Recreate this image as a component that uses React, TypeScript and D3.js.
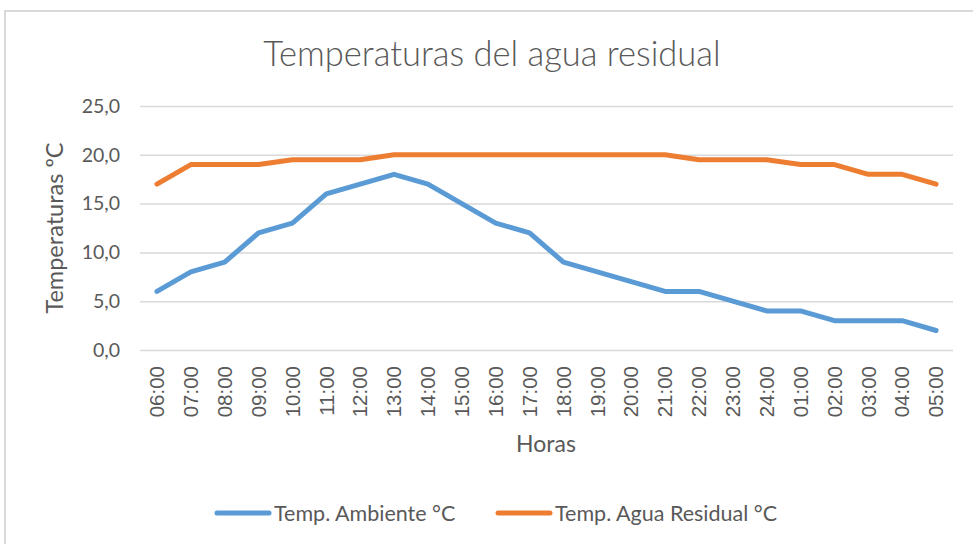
import React, { useEffect, useRef } from "react";
import * as d3 from "d3";

const horas = [
  "06:00", "07:00", "08:00", "09:00", "10:00", "11:00", "12:00", "13:00",
  "14:00", "15:00", "16:00", "17:00", "18:00", "19:00", "20:00", "21:00",
  "22:00", "23:00", "24:00", "01:00", "02:00", "03:00", "04:00", "05:00",
];
const ambiente = [6, 8, 9, 12, 13, 16, 17, 18, 17, 15, 13, 12, 9, 8, 7, 6, 6, 5, 4, 4, 3, 3, 3, 2];
const aguaResidual = [
  17, 19, 19, 19, 19.5, 19.5, 19.5, 20, 20, 20, 20, 20, 20, 20, 20, 20,
  19.5, 19.5, 19.5, 19, 19, 18, 18, 17,
];
const yTicks = [0, 5, 10, 15, 20, 25];

const width = 973;
const height = 544;

export default function App() {
  const ref = useRef<SVGSVGElement>(null);

  useEffect(() => {
    const svg = d3.select(ref.current);
    const margin = { top: 106, right: 20, bottom: 194, left: 140 };
    const textColor = "#595959";
    const font = "Lato, 'Open Sans', sans-serif";

    const series = [
      { name: "Temp. Ambiente °C", values: ambiente, color: "#5B9BD5" },
      { name: "Temp. Agua Residual °C", values: aguaResidual, color: "#ED7D31" },
    ];

    const x = d3
      .scaleBand()
      .domain(horas)
      .range([margin.left, width - margin.right]);

    const y = d3
      .scaleLinear()
      .domain([0, 25])
      .range([height - margin.bottom, margin.top]);

    // chart border (only top/left visible)
    svg
      .append("rect")
      .attr("x", 5)
      .attr("y", 11)
      .attr("width", width + 20)
      .attr("height", height + 20)
      .attr("fill", "none")
      .attr("stroke", "#D9D9D9")
      .attr("stroke-width", 2);

    svg
      .append("text")
      .attr("x", 492)
      .attr("y", 66)
      .attr("text-anchor", "middle")
      .attr("font-family", font)
      .attr("font-weight", 300)
      .attr("font-size", 34.5)
      .attr("fill", textColor)
      .text("Temperaturas del agua residual");

    // y grid + labels
    const yAxis = svg
      .append("g")
      .attr("transform", `translate(${margin.left},0)`)
      .call(
        d3
          .axisLeft(y)
          .tickValues(yTicks)
          .tickSize(-(width - margin.left - margin.right))
          .tickPadding(20)
          .tickFormat(d => d3.format(".1f")(d as number).replace(".", ","))
      );
    yAxis.select(".domain").remove();
    yAxis.selectAll(".tick line").attr("stroke", "#D9D9D9").attr("stroke-width", 1.5);
    yAxis
      .selectAll(".tick text")
      .attr("fill", textColor)
      .attr("font-family", font)
      .attr("font-size", 19.5);

    // x labels
    const xAxis = svg
      .append("g")
      .attr("transform", `translate(0,${height - margin.bottom})`)
      .call(d3.axisBottom(x).tickSize(0).tickPadding(0));
    xAxis.select(".domain").remove();
    xAxis
      .selectAll(".tick text")
      .attr("transform", "rotate(-90)")
      .attr("text-anchor", "end")
      .attr("x", -16)
      .attr("y", 0)
      .attr("dy", "0.35em")
      .attr("fill", textColor)
      .attr("font-family", "'Liberation Sans', Arial, sans-serif")
      .attr("font-size", 20.5);

    svg
      .append("text")
      .attr("x", 546)
      .attr("y", 452)
      .attr("text-anchor", "middle")
      .attr("font-family", font)
      .attr("font-size", 23)
      .attr("fill", textColor)
      .text("Horas");

    svg
      .append("text")
      .attr("transform", "translate(63,228) rotate(-90)")
      .attr("text-anchor", "middle")
      .attr("font-family", font)
      .attr("font-size", 23.5)
      .attr("fill", textColor)
      .text("Temperaturas ºC");

    const line = d3
      .line<number>()
      .x((_, i) => (x(horas[i]) as number) + x.bandwidth() / 2)
      .y(d => y(d));

    svg
      .append("g")
      .selectAll("path")
      .data(series)
      .join("path")
      .attr("d", d => line(d.values))
      .attr("fill", "none")
      .attr("stroke", d => d.color)
      .attr("stroke-width", 5)
      .attr("stroke-linecap", "round")
      .attr("stroke-linejoin", "round");

    // legend
    const legendX = [217, 498];
    const legend = svg
      .append("g")
      .selectAll("g")
      .data(series)
      .join("g")
      .attr("transform", (_, i) => `translate(${legendX[i]},513)`);
    legend
      .append("line")
      .attr("x1", 0)
      .attr("x2", 52)
      .attr("stroke", d => d.color)
      .attr("stroke-width", 5)
      .attr("stroke-linecap", "round");
    legend
      .append("text")
      .attr("x", 57)
      .attr("dy", "0.35em")
      .attr("font-family", font)
      .attr("font-size", 21.5)
      .attr("fill", textColor)
      .text(d => d.name);

    return () => {
      svg.html("");
    };
  }, []);

  return (
    <svg
      ref={ref}
      width={width}
      height={height}
      style={{ position: "absolute", left: 0, top: 0, background: "#fff" }}
    />
  );
}
